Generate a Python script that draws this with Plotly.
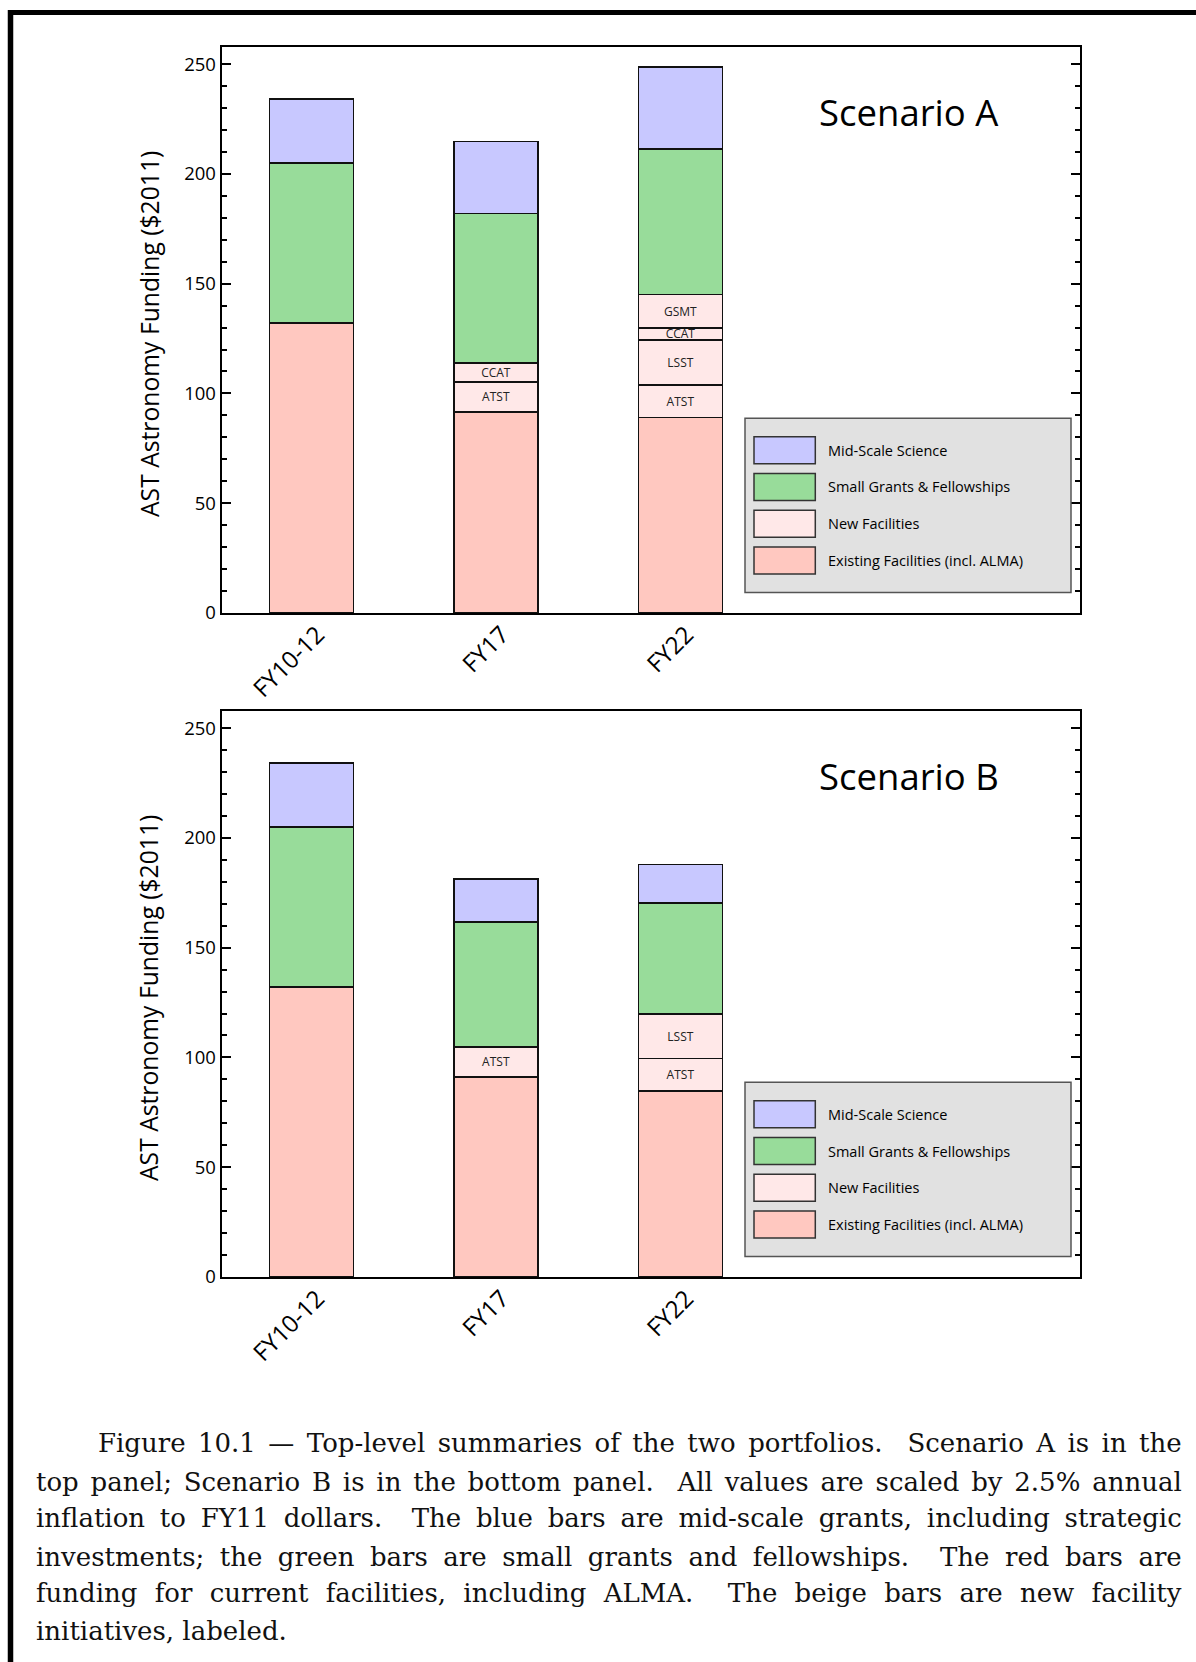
import json
import plotly.graph_objects as go

W, H = 1196, 1662

# ---------------- data ----------------
categories = ["FY10-12", "FY17", "FY22"]

# Scenario A (AST funding, $M 2011)
a_existing = [132.0, 91.7, 89.1]
a_atst = [None, 13.5, 14.7]
a_lsst = [None, None, 20.5]
a_ccat = [None, 8.7, 5.6]
a_gsmt = [None, None, 15.2]
a_small = [73.0, 68.0, 66.2]
a_mid = [29.0, 32.8, 37.5]

# Scenario B
b_existing = [132.0, 91.2, 84.7]
b_atst = [None, 13.6, 14.8]
b_lsst = [None, None, 20.2]
b_small = [73.0, 56.8, 50.8]
b_mid = [29.0, 19.8, 17.4]

legend_labels = ["Mid-Scale Science", "Small Grants & Fellowships",
                 "New Facilities", "Existing Facilities (incl. ALMA)"]
scenario_titles = ["Scenario A", "Scenario B"]
y_ticks = [0, 50, 100, 150, 200, 250]
y_title = "AST Astronomy Funding ($2011)"

caption_lines = [
    "Figure 10.1 \u2014 Top-level summaries of the two portfolios.\u00a0 Scenario A is in the",
    "top panel; Scenario B is in the bottom panel.\u00a0 All values are scaled by 2.5% annual",
    "inflation to FY11 dollars.\u00a0 The blue bars are mid-scale grants, including strategic",
    "investments; the green bars are small grants and fellowships.\u00a0 The red bars are",
    "funding for current facilities, including ALMA.\u00a0 The beige bars are new facility",
    "initiatives, labeled.",
]

# ---------------- style ----------------
C_MID = "#c8c8ff"
C_SMALL = "#98dc9a"
C_NEW = "#ffe8e8"
C_EXIST = "#ffc8c0"
legend_colors = [C_MID, C_SMALL, C_NEW, C_EXIST]
FONT = "Open Sans"
SERIF = "DejaVu Serif"


def fx(x):
    return x / W


def fy(y):
    return 1 - y / H


fig = go.Figure()


def add_bar(vals, color, name, xa, ya, label=None):
    text = None
    if label is not None:
        text = [label if v is not None else "" for v in vals]
    fig.add_trace(go.Bar(
        x=categories, y=vals, name=name, xaxis=xa, yaxis=ya,
        marker=dict(color=color, line=dict(color="#111111", width=1.7)),
        text=text, textposition="inside" if text else None,
        insidetextanchor="middle", textangle=0, constraintext="none",
        textfont=dict(family=FONT, size=12, color="#222222"),
        showlegend=False, hoverinfo="x+y+name",
    ))


# Scenario A stack
add_bar(a_existing, C_EXIST, legend_labels[3], "x", "y")
add_bar(a_atst, C_NEW, "ATST", "x", "y", "ATST")
add_bar(a_lsst, C_NEW, "LSST", "x", "y", "LSST")
add_bar(a_ccat, C_NEW, "CCAT", "x", "y", "CCAT")
add_bar(a_gsmt, C_NEW, "GSMT", "x", "y", "GSMT")
add_bar(a_small, C_SMALL, legend_labels[1], "x", "y")
add_bar(a_mid, C_MID, legend_labels[0], "x", "y")

# Scenario B stack
add_bar(b_existing, C_EXIST, legend_labels[3], "x2", "y2")
add_bar(b_atst, C_NEW, "ATST", "x2", "y2", "ATST")
add_bar(b_lsst, C_NEW, "LSST", "x2", "y2", "LSST")
add_bar(b_small, C_SMALL, legend_labels[1], "x2", "y2")
add_bar(b_mid, C_MID, legend_labels[0], "x2", "y2")

# panel geometry (pixels)
X_LEFT, X_RIGHT = 221.6, 1080.0
PANELS = [(47.0, 613.0), (711.0, 1277.0)]
X_RANGE = [-0.487, 4.165]
Y_RANGE = [0, 257.8]

xaxis_style = dict(
    range=X_RANGE, domain=[fx(X_LEFT), fx(X_RIGHT)],
    showline=True, linewidth=2, linecolor="black", mirror=True,
    ticks="", showgrid=False, zeroline=False, tickangle=-45,
    ticklabelshift=6, ticklabelstandoff=-4,
    tickfont=dict(family=FONT, size=24, color="black"),
    automargin=False, fixedrange=True,
)
yaxis_style = dict(
    range=Y_RANGE, tickvals=y_ticks,
    showline=True, linewidth=2, linecolor="black", mirror="ticks",
    ticks="inside", ticklen=9, tickwidth=2, tickcolor="black",
    minor=dict(dtick=10, ticks="inside", ticklen=5, tickwidth=1.5, tickcolor="black"),
    showgrid=False, zeroline=False,
    tickfont=dict(family=FONT, size=18.5, color="black"),
    automargin=False, fixedrange=True,
)

layout = dict(
    width=W, height=H, margin=dict(l=0, r=0, t=0, b=0),
    paper_bgcolor="white", plot_bgcolor="white",
    barmode="stack", bargap=0.546, showlegend=False,
    font=dict(family=FONT, color="black"),
)
for i, (top, bot) in enumerate(PANELS):
    sfx = "" if i == 0 else str(i + 1)
    layout["xaxis" + sfx] = dict(xaxis_style, anchor="y" + sfx)
    layout["yaxis" + sfx] = dict(yaxis_style, anchor="x" + sfx,
                                 domain=[fy(bot), fy(top)])
fig.update_layout(**layout)

shapes = []
annotations = []

# outer page frame (top and left rules)
shapes.append(dict(type="line", xref="paper", yref="paper",
                   x0=fx(8), x1=1.0, y0=fy(12.5), y1=fy(12.5),
                   line=dict(color="black", width=5)))
shapes.append(dict(type="line", xref="paper", yref="paper",
                   x0=fx(10.5), x1=fx(10.5), y0=fy(10), y1=0,
                   line=dict(color="black", width=5.5)))

for i, (top, bot) in enumerate(PANELS):
    dy = top - PANELS[0][0]
    # scenario title
    annotations.append(dict(text=scenario_titles[i], xref="paper", yref="paper",
                            x=fx(909), y=fy(112 + dy), xanchor="center", yanchor="middle",
                            showarrow=False, font=dict(family=FONT, size=36.5, color="black")))
    # y-axis title
    annotations.append(dict(text=y_title, xref="paper", yref="paper",
                            x=fx(149), y=fy((top + bot) / 2 + 4), textangle=-90,
                            xanchor="center", yanchor="middle", showarrow=False,
                            font=dict(family=FONT, size=24.7, color="black")))
    # legend box
    shapes.append(dict(type="rect", xref="paper", yref="paper",
                       x0=fx(745), x1=fx(1071), y0=fy(418.3 + dy), y1=fy(592.5 + dy),
                       fillcolor="#e1e1e1", line=dict(color="#555555", width=1.5)))
    for k, (lab, col) in enumerate(zip(legend_labels, legend_colors)):
        y0 = 436.7 + 36.8 * k + dy
        shapes.append(dict(type="rect", xref="paper", yref="paper",
                           x0=fx(754), x1=fx(815.3), y0=fy(y0), y1=fy(y0 + 27),
                           fillcolor=col, line=dict(color="#333333", width=1.5)))
        annotations.append(dict(text=lab, xref="paper", yref="paper",
                                x=fx(826), y=fy(y0 + 13.5), xanchor="left", yanchor="middle",
                                showarrow=False, font=dict(family=FONT, size=14.5, color="black")))

# caption
baselines = [1453.3, 1491.7, 1528.3, 1566.7, 1603.3, 1640.7]
for j, line in enumerate(caption_lines):
    x0 = 97.3 if j == 0 else 35.0
    annotations.append(dict(text=line, xref="paper", yref="paper",
                            x=fx(x0 - 1), y=fy(baselines[j] + 7), xanchor="left",
                            yanchor="bottom", align="left", showarrow=False,
                            font=dict(family=SERIF, size=26, color="#111111")))

fig.update_layout(shapes=shapes, annotations=annotations)

justify_lines = caption_lines[:-1]
post = """
document.body.style.margin = '0';
document.body.style.overflow = 'hidden';
var JL = %s;
var RIGHT = 1181.7;
var gd = document.getElementById('{plot_id}');
gd.querySelectorAll('text.annotation-text').forEach(function(t){
  var c = t.textContent;
  if (JL.indexOf(c) < 0) return;
  var r = t.getBoundingClientRect();
  var n = (c.match(/[ \\u00a0]/g) || []).length;
  if (n > 0) {
    var ws = (RIGHT - r.right) / n;
    t.style.wordSpacing = ws + 'px';
  }
});
""" % json.dumps(justify_lines)

fig.write_html("out.html", post_script=post, config={"displayModeBar": False})
